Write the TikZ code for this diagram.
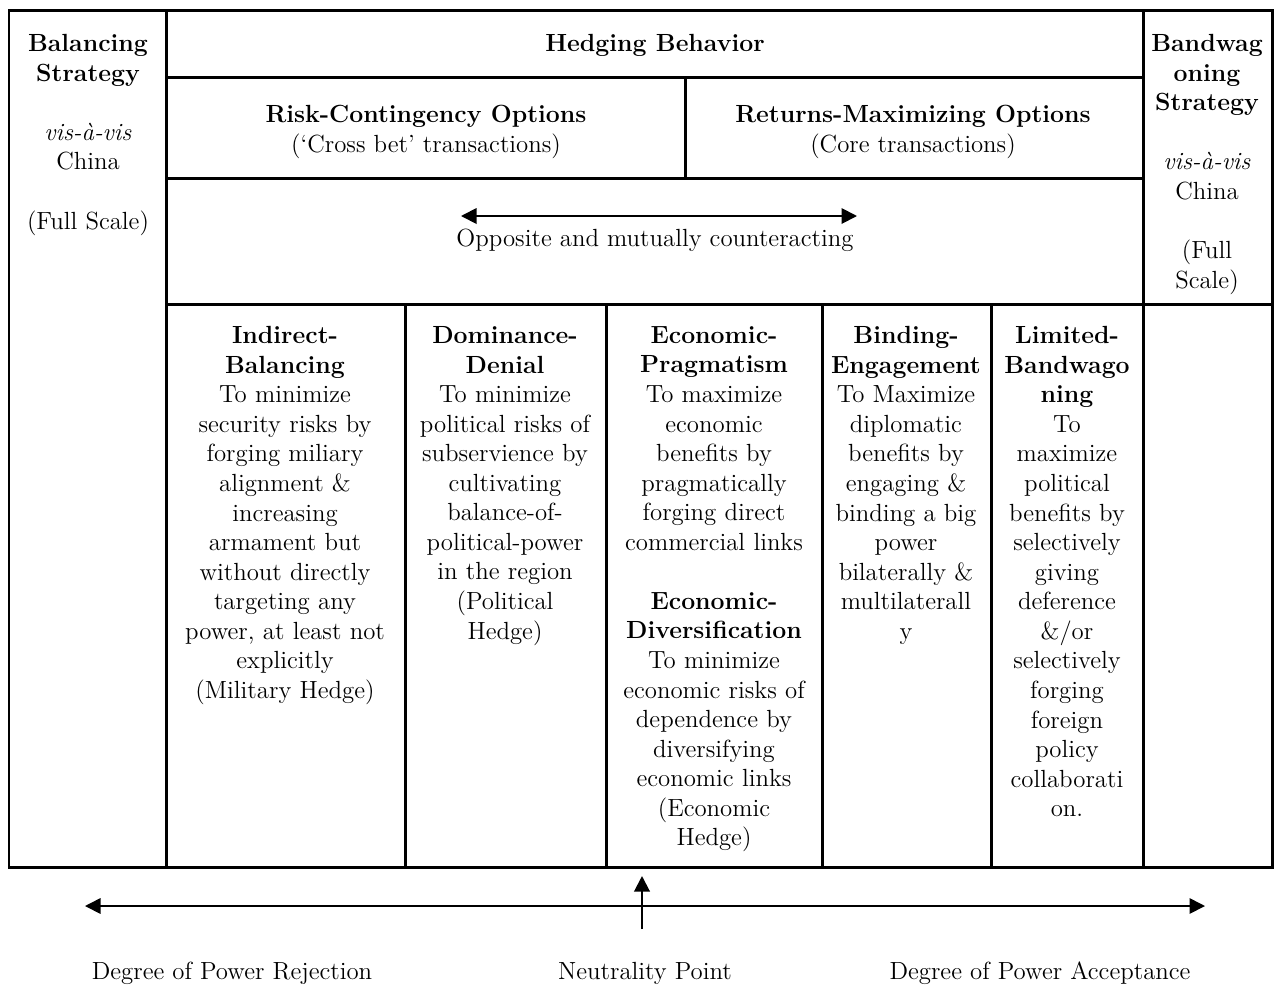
\documentclass[tikz,border=0pt]{standalone}
\usetikzlibrary{arrows.meta}

\begin{document}
\begin{tikzpicture}[x=0.017cm, y=-0.017cm,
  >={Triangle[length=7.5pt, width=7.5pt]},
  txt/.style={align=center, inner sep=0pt, font=\fontsize{12}{14.3}\selectfont},
  rule/.style={line width=1.45pt}]
  \useasboundingbox (0,0) rectangle (1274,985);
  % Table lines
  \draw[rule] (9,10) rectangle (1272,867);
  \draw[rule] (166,10) -- (166,867);
  \draw[rule] (1143,10) -- (1143,867);
  \draw[rule] (166,77) -- (1143,77);
  \draw[rule] (685,77) -- (685,178);
  \draw[rule] (166,178) -- (1143,178);
  \draw[rule] (166,304) -- (1272,304);
  \foreach \x in {405,606,822,991}
    \draw[rule] (\x,304) -- (\x,867);
  % Header nodes
  \node (balance) [txt, anchor=north, text width=2.6cm] at (88,34) {\textbf{Balancing\\Strategy}\\[14.3pt] \textit{vis-\`a-vis}\\China\\[14.3pt] (Full Scale)};
  \node (hedge) [txt, anchor=north] at (655,34) {\textbf{Hedging Behavior}};
  \node (bandwag) [txt, anchor=north, text width=2.4cm] at (1207,34) {\textbf{Bandwag\\oning\\Strategy}\\[14.3pt] \textit{vis-\`a-vis}\\China\\[14.3pt] (Full\\Scale)};
  \node (risk) [txt, anchor=north] at (426,105) {\textbf{Risk-Contingency Options}\\(`Cross bet' transactions)};
  \node (returns) [txt, anchor=north] at (913,105) {\textbf{Returns-Maximizing Options}\\(Core transactions)};
  \node (opposite) [txt, anchor=base] at (655,246) {Opposite and mutually counteracting};
  % Column nodes
  \node (indirect) [txt, anchor=north, text width=3.9cm] at (285,326) {\textbf{Indirect-\\Balancing}\\To minimize\\security risks by\\forging miliary\\alignment \&\\increasing\\armament but\\without directly\\targeting any\\power, at least not\\explicitly\\(Military Hedge)};
  \node (denial) [txt, anchor=north, text width=3.3cm] at (505,326) {\textbf{Dominance-\\Denial}\\To minimize\\political risks of\\subservience by\\cultivating\\balance-of-\\political-power\\in the region\\(Political\\Hedge)};
  \node (econ) [txt, anchor=north, text width=3.6cm] at (714,326) {\textbf{Economic-\\Pragmatism}\\To maximize\\economic\\benefits by\\pragmatically\\forging direct\\commercial links\\[14.3pt] \textbf{Economic-\\Diversification}\\To minimize\\economic risks of\\dependence by\\diversifying\\economic links\\(Economic\\Hedge)};
  \node (binding) [txt, anchor=north, text width=2.8cm] at (906,326) {\textbf{Binding-\\Engagement}\\To Maximize\\diplomatic\\benefits by\\engaging \&\\binding a big\\power\\bilaterally \&\\multilaterall\\y};
  \node (limited) [txt, anchor=north, text width=2.5cm] at (1067,326) {\textbf{Limited-\\Bandwago\\ning}\\To\\maximize\\political\\benefits by\\selectively\\giving\\deference\\\&/or\\selectively\\forging\\foreign\\policy\\collaborati\\on.};
  % Scale labels
  \node (reject) [txt, anchor=base] at (232,979) {Degree of Power Rejection};
  \node (neutral) [txt, anchor=base] at (645,979) {Neutrality Point};
  \node (accept) [txt, anchor=base] at (1040,979) {Degree of Power Acceptance};
  % Arrows
  \coordinate (oppL) at (461,216);
  \coordinate (oppR) at (857,216);
  \coordinate (scaleL) at (85,906);
  \coordinate (scaleR) at (1205,906);
  \coordinate (neuBot) at (642,929);
  \coordinate (neuTop) at (642,876);
  \draw[<->, line width=0.9pt] (oppL) -- (oppR);
  \draw[<->, line width=0.8pt] (scaleL) -- (scaleR);
  \draw[->, line width=1pt] (neuBot) -- (neuTop);
\end{tikzpicture}
\end{document}
